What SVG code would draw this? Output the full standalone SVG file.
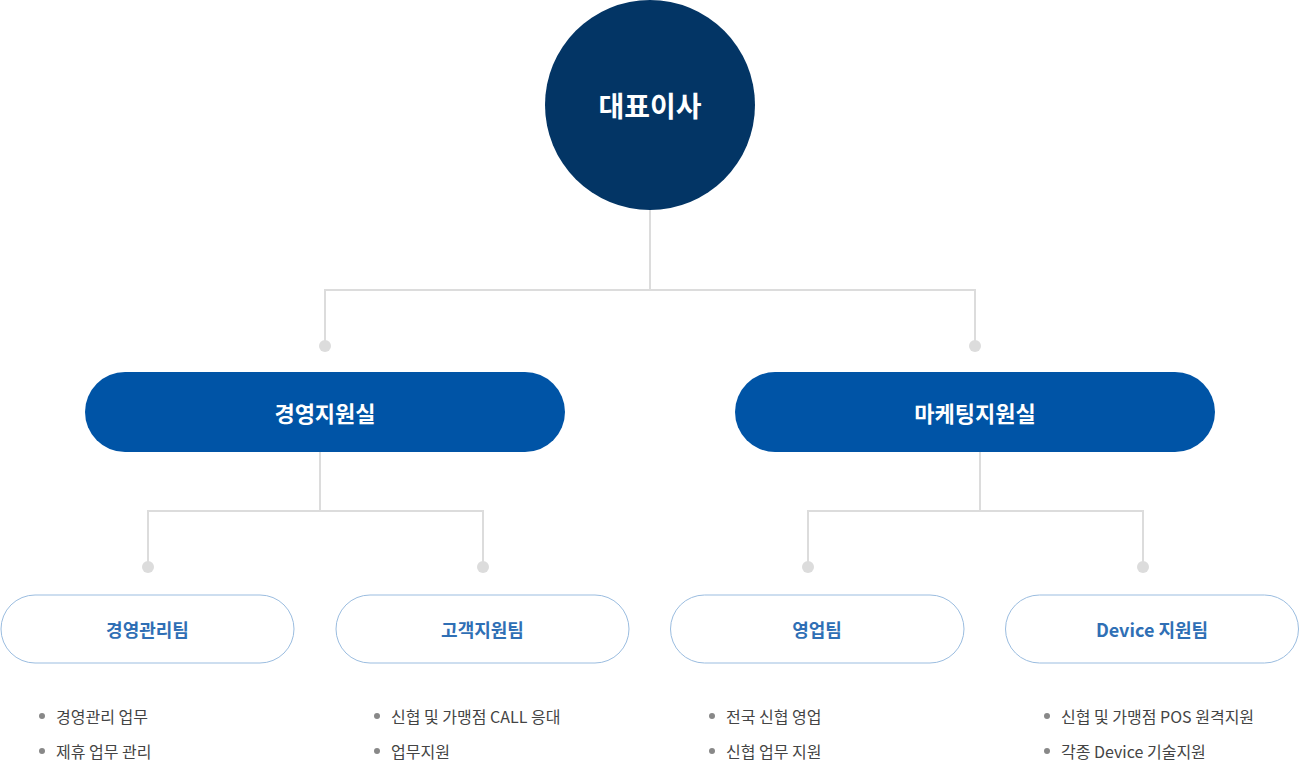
<svg xmlns="http://www.w3.org/2000/svg" width="1300" height="784" viewBox="0 0 1300 784">
<style>
text{font-family:"Noto Sans CJK KR","Noto Sans",sans-serif}
.ceo{fill:#033565}
.ceo-t{fill:#fff;font-size:28px;font-weight:700}
.mid{fill:#0054a6}
.mid-t{fill:#fff;font-size:22px;font-weight:700}
.team{fill:#fff;stroke:#9bbde0;stroke-width:1}
.team-t{fill:#2f6fb5;font-size:18px;font-weight:700}
.line{fill:none;stroke:#dcdcdc;stroke-width:2}
.dot{fill:#dcdcdc}
.b{fill:#888}
.bt{fill:#444;font-size:16px}
</style>
<rect width="1300" height="784" fill="#fff"/>
<g id="connectors">
<path class="line" d="M650 210V290M325 290H975M325 289V346M975 289V346"/>
<path class="line" d="M320 452V511M148 511H483M148 510V567M483 510V567"/>
<path class="line" d="M980 452V511M808 511H1143M808 510V567M1143 510V567"/>
<circle class="dot" cx="325" cy="346" r="6"/>
<circle class="dot" cx="975" cy="346" r="6"/>
<circle class="dot" cx="148" cy="567" r="6"/>
<circle class="dot" cx="483" cy="567" r="6"/>
<circle class="dot" cx="808" cy="567" r="6"/>
<circle class="dot" cx="1143" cy="567" r="6"/>
</g>
<g id="ceo">
<circle class="ceo" cx="650" cy="105" r="105"/>
<text class="ceo-t" x="650" y="105" text-anchor="middle" dominant-baseline="central">대표이사</text>
</g>
<g id="mgmt-office">
<rect class="mid" x="85" y="372" width="480" height="80" rx="40"/>
<text class="mid-t" x="325" y="412" text-anchor="middle" dominant-baseline="central">경영지원실</text>
</g>
<g id="marketing-office">
<rect class="mid" x="735" y="372" width="480" height="80" rx="40"/>
<text class="mid-t" x="975" y="412" text-anchor="middle" dominant-baseline="central">마케팅지원실</text>
</g>
<g id="team-mgmt">
<rect class="team" x="1" y="595" width="293" height="68" rx="34"/>
<text class="team-t" x="147.5" y="629" text-anchor="middle" dominant-baseline="central">경영관리팀</text>
<circle class="b" cx="42" cy="716" r="3"/>
<text class="bt" x="56" y="716" dominant-baseline="central">경영관리 업무</text>
<circle class="b" cx="42" cy="751" r="3"/>
<text class="bt" x="56" y="751" dominant-baseline="central">제휴 업무 관리</text>
</g>
<g id="team-cs">
<rect class="team" x="336" y="595" width="293" height="68" rx="34"/>
<text class="team-t" x="482.5" y="629" text-anchor="middle" dominant-baseline="central">고객지원팀</text>
<circle class="b" cx="377" cy="716" r="3"/>
<text class="bt" x="391" y="716" dominant-baseline="central">신협 및 가맹점 CALL 응대</text>
<circle class="b" cx="377" cy="751" r="3"/>
<text class="bt" x="391" y="751" dominant-baseline="central">업무지원</text>
</g>
<g id="team-sales">
<rect class="team" x="670.5" y="595" width="293.5" height="68" rx="34"/>
<text class="team-t" x="817" y="629" text-anchor="middle" dominant-baseline="central">영업팀</text>
<circle class="b" cx="712" cy="716" r="3"/>
<text class="bt" x="726" y="716" dominant-baseline="central">전국 신협 영업</text>
<circle class="b" cx="712" cy="751" r="3"/>
<text class="bt" x="726" y="751" dominant-baseline="central">신협 업무 지원</text>
</g>
<g id="team-device">
<rect class="team" x="1005.5" y="595" width="293" height="68" rx="34"/>
<text class="team-t" x="1152" y="629" text-anchor="middle" dominant-baseline="central">Device 지원팀</text>
<circle class="b" cx="1047" cy="716" r="3"/>
<text class="bt" x="1061" y="716" dominant-baseline="central">신협 및 가맹점 POS 원격지원</text>
<circle class="b" cx="1047" cy="751" r="3"/>
<text class="bt" x="1061" y="751" dominant-baseline="central">각종 Device 기술지원</text>
</g>
</svg>
